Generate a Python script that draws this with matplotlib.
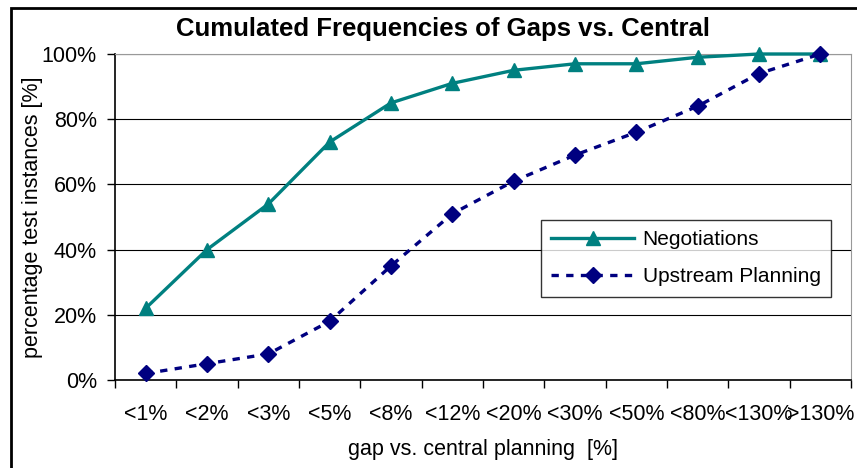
import numpy as np
import matplotlib
matplotlib.use("Agg")
from matplotlib import pyplot as plt
from matplotlib.patches import Rectangle
from matplotlib.ticker import FixedLocator, PercentFormatter

categories = ["<1%", "<2%", "<3%", "<5%", "<8%", "<12%", "<20%", "<30%",
              "<50%", "<80%", "<130%", ">130%"]
negotiations = [22, 40, 54, 73, 85, 91, 95, 97, 97, 99, 100, 100]
upstream = [2, 5, 8, 18, 35, 51, 61, 69, 76, 84, 94, 100]

plt.rcParams['font.family'] = ['Liberation Sans', 'DejaVu Sans']

fig = plt.figure(figsize=(8.57, 4.68), dpi=100)
ax = fig.add_axes([115 / 857, 88 / 468, 736 / 857, 326 / 468])

x = np.arange(len(categories))
ax.plot(x, negotiations, color='#008080', lw=2.4, marker='^', ms=10,
        label='Negotiations', clip_on=False, zorder=3)
ax.plot(x, upstream, color='#000080', lw=2.4, marker='D', ms=8,
        dashes=(2.2, 2.2), label='Upstream Planning', clip_on=False, zorder=3)

ax.set_xlim(-0.5, len(categories) - 0.5)
ax.set_ylim(0, 100)
ax.set_yticks(range(0, 101, 20))
ax.yaxis.set_major_formatter(PercentFormatter(decimals=0))
ax.set_xticks(x)
ax.set_xticklabels(categories)
ax.xaxis.set_minor_locator(FixedLocator(np.arange(-0.5, len(categories), 1)))
ax.tick_params(axis='x', which='major', length=0, pad=17, labelsize=15.5)
ax.tick_params(axis='x', which='minor', length=6, width=1, direction='out')
ax.tick_params(axis='y', length=6, width=1, pad=7, labelsize=15.5)
ax.grid(axis='y', color='black', lw=0.8)
ax.set_axisbelow(True)

for side in ['top', 'right']:
    ax.spines[side].set_color('#999999')
for side in ['left', 'bottom']:
    ax.spines[side].set_color('black')
    ax.spines[side].set_linewidth(1.2)

ax.set_xlabel('gap vs. central planning  [%]', fontsize=15.5, labelpad=10)
ax.set_ylabel('percentage test instances [%]', fontsize=15.5)
ax.yaxis.set_label_coords((43 - 115) / 736, 0.5)
fig.text(443 / 857, (468 - 29) / 468, 'Cumulated Frequencies of Gaps vs. Central',
         ha='center', va='center', fontsize=18.5, fontweight='bold')

leg = ax.legend(loc='upper right', bbox_to_anchor=(716 / 736, (380 - 220) / 326),
                fontsize=15, frameon=True, fancybox=False, edgecolor='black',
                handlelength=4, borderpad=0.5, labelspacing=0.85,
                handletextpad=0.4, borderaxespad=0)
leg.get_frame().set_linewidth(1)

fig.patches.append(Rectangle((11 / 857, -0.1), 1.2, (468 - 8) / 468 + 0.1,
                             transform=fig.transFigure, fill=False,
                             edgecolor='black', lw=2))

fig.savefig('out.png', dpi=100)
